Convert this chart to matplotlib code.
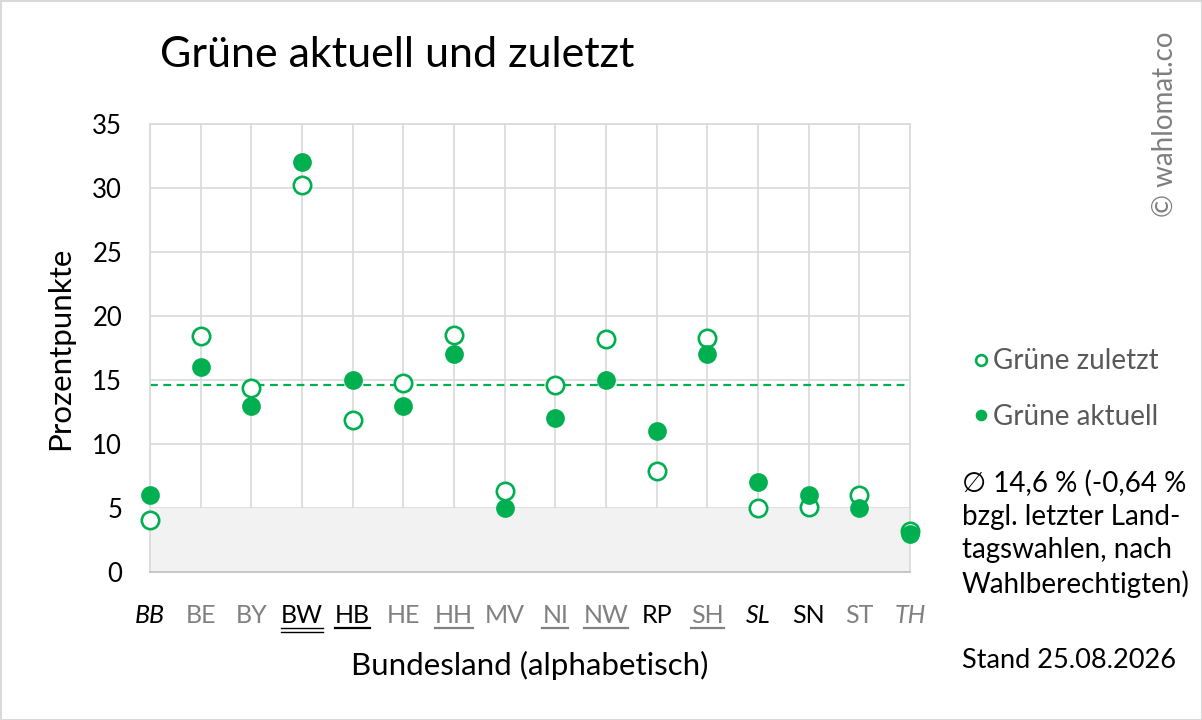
import numpy as np
import matplotlib
matplotlib.use("Agg")
import matplotlib.pyplot as plt
from matplotlib.lines import Line2D
from matplotlib.patches import Rectangle

plt.rcParams['font.family'] = ['Lato', 'DejaVu Sans']

# data
laender = ['BB', 'BE', 'BY', 'BW', 'HB', 'HE', 'HH', 'MV',
           'NI', 'NW', 'RP', 'SH', 'SL', 'SN', 'ST', 'TH']
gruene_zuletzt = [4.1, 18.4, 14.4, 30.2, 11.9, 14.8, 18.5, 6.3,
                  14.6, 18.2, 7.9, 18.3, 5.0, 5.1, 6.0, 3.2]
gruene_aktuell = [6.0, 16.0, 13.0, 32.0, 15.0, 13.0, 17.0, 5.0,
                  12.0, 15.0, 11.0, 17.0, 7.0, 6.0, 5.0, 3.0]
mittel = 14.6
grenze = 5
# label styles: (colour, italic, underline: 0 none, 1 single, 2 double)
label_style = {
    'BB': ('black', True, 0), 'BE': ('#808080', False, 0), 'BY': ('#808080', False, 0),
    'BW': ('black', False, 2), 'HB': ('black', False, 1), 'HE': ('#808080', False, 0),
    'HH': ('#808080', False, 1), 'MV': ('#808080', False, 0), 'NI': ('#808080', False, 1),
    'NW': ('#808080', False, 1), 'RP': ('black', False, 0), 'SH': ('#808080', False, 1),
    'SL': ('black', True, 0), 'SN': ('black', False, 0), 'ST': ('#808080', False, 0),
    'TH': ('#808080', True, 0),
}

green = '#00b050'
W, H = 1202, 720
fig = plt.figure(figsize=(W / 100, H / 100), dpi=100)
ax = fig.add_axes([150 / W, 148 / H, 760 / W, 448 / H])

x = np.arange(len(laender))
ax.axhspan(0, grenze, color='#f2f2f2', zorder=1, lw=0)
ax.axhline(mittel, color=green, lw=1.6, ls=(0, (3.5, 2.5)), zorder=2)
ax.plot(x, gruene_zuletzt, 'o', ms=12.5, mfc='white', mec=green, mew=1.9,
        ls='none', zorder=3, clip_on=False, label='Grüne zuletzt')
ax.plot(x, gruene_aktuell, 'o', ms=13.5, mfc=green, mec=green, mew=0,
        ls='none', zorder=4, clip_on=False, label='Grüne aktuell')

ax.set_xlim(0, len(laender) - 1)
ax.set_ylim(0, 35)
ax.set_yticks(range(0, 36, 5))
ax.set_xticks(x)
ax.set_xticklabels(laender)
ax.grid(True, color='#d9d9d9', lw=1.2, zorder=0)
ax.set_axisbelow(True)
for s in ax.spines.values():
    s.set_color('#d9d9d9')
    s.set_linewidth(1.2)
ax.spines['bottom'].set_color('#bfbfbf')
ax.tick_params(length=0, labelsize=18)
ax.tick_params(axis='y', labelsize=18.5, pad=20)
ax.tick_params(axis='x', pad=23)
for lab in ax.get_xticklabels():
    col, it, ul = label_style[lab.get_text()]
    lab.set_color(col)
    if it:
        lab.set_style('italic')

ax.set_ylabel('Prozentpunkte', fontsize=22.5)
ax.yaxis.set_label_coords(-0.1, 0.5)
ax.set_xlabel('Bundesland (alphabetisch)', fontsize=22.5)
ax.xaxis.set_label_coords(0.5, -0.175)

fig.text(160 / W, 1 - 55 / H, 'Grüne aktuell und zuletzt', fontsize=31,
         va='center', ha='left')
fig.text(1165 / W, 1 - 124 / H, '© wahlomat.co', fontsize=20, rotation=90,
         color='#7f7f7f', ha='center', va='center')

leg = fig.legend(loc='center left', bbox_to_anchor=(960 / W, 1 - 389 / H),
                 frameon=False, fontsize=20, labelcolor='#595959',
                 handlelength=0.5, handletextpad=0.2, labelspacing=1.05,
                 borderpad=0, markerscale=0.62)

fig.text(962 / W, 1 - 534 / H,
         '∅ 14,6 % (-0,64 %\nbzgl. letzter Land-\ntagswahlen, nach\nWahlberechtigten)',
         fontsize=20, va='center', ha='left', linespacing=1.33)
fig.text(962 / W, 1 - 660 / H, 'Stand 25.08.2026', fontsize=19.5,
         va='center', ha='left')

fig.add_artist(Rectangle((0.5 / W, 0.5 / H), 1 - 1 / W, 1 - 1 / H,
                         transform=fig.transFigure, fill=False,
                         ec='#d9d9d9', lw=1.5))

# underline the marked tick labels
fig.canvas.draw()
inv = fig.transFigure.inverted()
for lab in ax.get_xticklabels():
    col, it, ul = label_style[lab.get_text()]
    if ul == 0:
        continue
    bb = lab.get_window_extent()
    y0 = bb.y0 - 1
    offsets = [0] if ul == 1 else [0, -4]
    for off in offsets:
        (fx0, fy), (fx1, _) = inv.transform([(bb.x0, y0 + off), (bb.x1, y0 + off)])
        fig.add_artist(Line2D([fx0, fx1], [fy, fy], transform=fig.transFigure,
                              color=col, lw=1.6 if ul == 1 else 1.0))

fig.savefig('out.png', dpi=100)
